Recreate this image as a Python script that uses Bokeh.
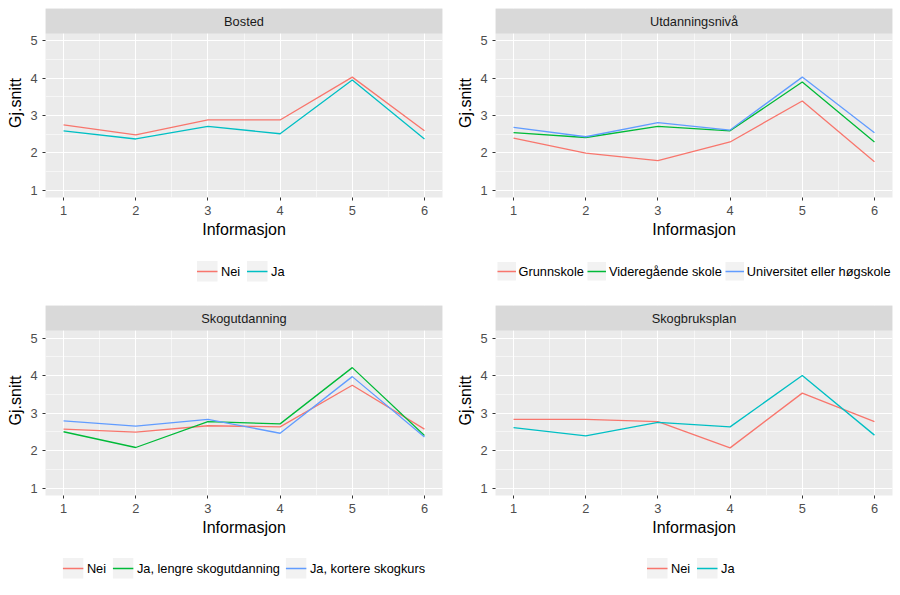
from bokeh.plotting import figure
from bokeh.models import Range1d, FixedTicker, Legend, LegendItem, Label
from bokeh.layouts import column, row
from bokeh.embed import file_html
from bokeh.resources import INLINE

# ---------------- data ----------------
informasjon = [1, 2, 3, 4, 5, 6]
x_ticks = [1, 2, 3, 4, 5, 6]
y_ticks = [1, 2, 3, 4, 5]
x_label = "Informasjon"
y_label = "Gj.snitt"

bosted_title = "Bosted"
bosted_groups = ["Nei", "Ja"]
bosted_nei = [2.75, 2.48, 2.88, 2.88, 4.03, 2.59]
bosted_ja = [2.59, 2.37, 2.71, 2.51, 3.95, 2.37]

utd_title = "Utdanningsnivå"
utd_groups = ["Grunnskole", "Videregående skole", "Universitet eller høgskole"]
utd_grunnskole = [2.39, 1.99, 1.79, 2.29, 3.39, 1.76]
utd_videregaende = [2.54, 2.41, 2.71, 2.59, 3.90, 2.29]
utd_universitet = [2.68, 2.43, 2.81, 2.61, 4.03, 2.54]

skogutd_title = "Skogutdanning"
skogutd_groups = ["Nei", "Ja, lengre skogutdanning", "Ja, kortere skogkurs"]
skogutd_nei = [2.57, 2.49, 2.66, 2.63, 3.74, 2.57]
skogutd_lengre = [2.50, 2.08, 2.77, 2.71, 4.21, 2.40]
skogutd_kortere = [2.79, 2.65, 2.83, 2.46, 3.97, 2.36]

plan_title = "Skogbruksplan"
plan_groups = ["Nei", "Ja"]
plan_nei = [2.83, 2.83, 2.77, 2.07, 3.53, 2.77]
plan_ja = [2.61, 2.39, 2.75, 2.63, 4.00, 2.41]

colors2 = ["#F8766D", "#00BFC4"]
colors3 = ["#F8766D", "#00BA38", "#619CFF"]

FONT = "Liberation Sans"


def make_panel(title, groups, series, colors, top_border, frame_h, bottom_border,
               leg_frame_h, leg_bottom, key=21, spacing=5, standoff=4):
    y_lo, y_hi = 0.8, 5.2
    x_lo, x_hi = 0.75, 6.25
    strip_px = 25
    frame_w = 397
    panel_px = frame_h - strip_px
    y_top = y_hi + strip_px * (y_hi - y_lo) / panel_px

    p = figure(frame_width=frame_w, frame_height=frame_h,
               output_backend="svg", toolbar_location=None,
               x_range=Range1d(x_lo, x_hi), y_range=Range1d(y_lo, y_top),
               min_border_left=45, min_border_right=8,
               min_border_top=top_border, min_border_bottom=bottom_border)
    p.background_fill_color = "#EBEBEB"
    p.border_fill_color = "white"
    p.outline_line_color = None

    xt = FixedTicker(ticks=x_ticks,
                     minor_ticks=[(a + b) / 2 for a, b in zip(x_ticks, x_ticks[1:])])
    yt = FixedTicker(ticks=y_ticks,
                     minor_ticks=[(a + b) / 2 for a, b in zip(y_ticks, y_ticks[1:])])
    p.xaxis.ticker = xt
    p.yaxis.ticker = yt
    p.xgrid.ticker = xt
    p.ygrid.ticker = yt
    for g in (p.xgrid[0], p.ygrid[0]):
        g.grid_line_color = "white"
        g.grid_line_width = 1.1
        g.minor_grid_line_color = "white"
        g.minor_grid_line_width = 0.55

    for ax in (p.xaxis[0], p.yaxis[0]):
        ax.axis_line_color = None
        ax.major_tick_line_color = "#333333"
        ax.major_tick_in = 0
        ax.major_tick_out = 3
        ax.minor_tick_line_color = None
        ax.major_label_text_font = FONT
        ax.major_label_text_font_size = "12.8px"
        ax.major_label_text_color = "#4D4D4D"
        ax.major_label_standoff = 4
        ax.axis_label_text_font = FONT
        ax.axis_label_text_font_size = "16px"
        ax.axis_label_text_font_style = "normal"
        ax.axis_label_text_color = "black"
        ax.axis_label_standoff = 3
    p.xaxis.axis_label = x_label
    p.yaxis.axis_label = y_label

    # strip
    p.quad(left=[x_lo], right=[x_hi], bottom=[y_hi], top=[y_top],
           fill_color="#D9D9D9", line_color=None)
    p.add_layout(Label(x=(x_lo + x_hi) / 2, y=(y_hi + y_top) / 2, text=title,
                       text_align="center", text_baseline="middle",
                       text_font=FONT, text_font_size="12.8px", text_color="#1A1A1A"))

    for vals, c in zip(series, colors):
        p.line(informasjon, vals, line_color=c, line_width=1.3)

    # legend panel beneath the plot (its key renderers carry the series but stay hidden)
    lf = figure(frame_width=frame_w, frame_height=leg_frame_h,
                output_backend="svg", toolbar_location=None,
                x_range=Range1d(x_lo, x_hi), y_range=Range1d(y_lo, y_hi),
                x_axis_type=None, y_axis_type=None,
                min_border_left=45, min_border_right=8,
                min_border_top=0, min_border_bottom=leg_bottom)
    lf.background_fill_color = "white"
    lf.border_fill_color = "white"
    lf.outline_line_color = None
    lf.grid.visible = False
    items = []
    for name, vals, c in zip(groups, series, colors):
        bg = lf.line(informasjon, vals, line_color="#F2F2F2", line_width=key,
                     line_cap="butt", visible=False)
        ln = lf.line(informasjon, vals, line_color=c, line_width=1.3, visible=False)
        items.append(LegendItem(label=name, renderers=[bg, ln]))
    legend = Legend(items=items, orientation="horizontal", location="center",
                    ncols=len(groups), click_policy="none", inactive_fill_alpha=0,
                    label_text_font=FONT, label_text_font_size="12.8px",
                    label_text_color="black", label_height=key,
                    glyph_width=key, glyph_height=key, label_standoff=standoff,
                    spacing=spacing, padding=0, margin=0, background_fill_alpha=0,
                    border_line_color=None)
    lf.add_layout(legend, "center")
    return column(p, lf, spacing=0)


q1 = make_panel(bosted_title, bosted_groups, [bosted_nei, bosted_ja], colors2,
                8, 189, 50, 48, 10)
q2 = make_panel(utd_title, utd_groups, [utd_grunnskole, utd_videregaende, utd_universitet],
                colors3, 8, 189, 50, 48, 10, key=19, spacing=3, standoff=3)
q3 = make_panel(skogutd_title, skogutd_groups, [skogutd_nei, skogutd_lengre, skogutd_kortere],
                colors3, 0, 190, 50, 46, 4)
q4 = make_panel(plan_title, plan_groups, [plan_nei, plan_ja], colors2,
                0, 190, 50, 46, 4)

layout = column(row(q1, q2, spacing=0), row(q3, q4, spacing=0), spacing=0)
open("out.html", "w").write(file_html(layout, INLINE))
